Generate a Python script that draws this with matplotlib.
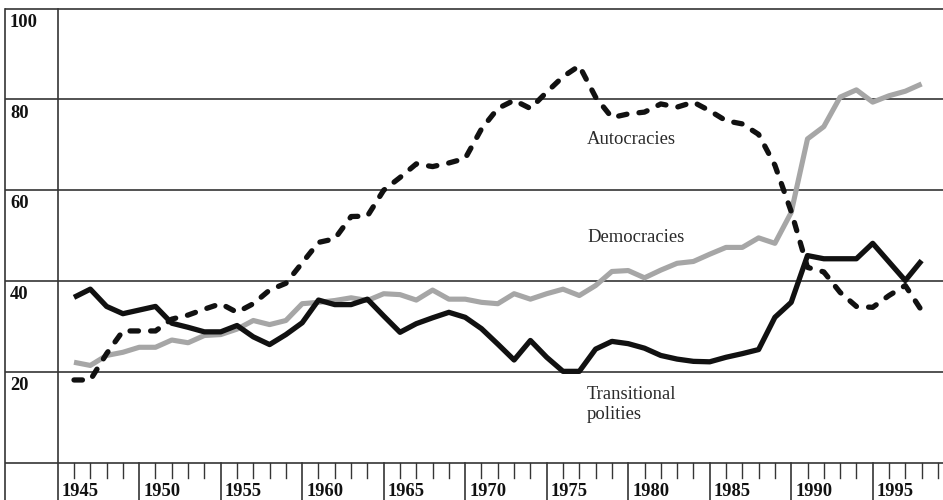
import matplotlib
matplotlib.use("Agg")
import matplotlib.pyplot as plt
import numpy as np

plt.rcParams['font.family'] = ['Liberation Serif', 'DejaVu Serif']

years = list(range(1945, 1998))

transitional = [36.4, 38.2, 34.4, 32.8, 33.6, 34.4, 30.7, 29.8, 28.8, 28.8,
                30.2, 27.7, 26.0, 28.2, 30.8, 35.8, 34.8, 34.8, 36.0, 32.3,
                28.7, 30.6, 31.9, 33.1, 32.0, 29.5, 26.1, 22.6, 26.9, 23.2,
                20.1, 20.1, 25.0, 26.7, 26.2, 25.2, 23.6, 22.8, 22.3, 22.2,
                23.2, 24.0, 24.9, 32.0, 35.3, 45.6, 44.9, 44.9, 44.9, 48.3,
                44.2, 40.1, 44.5]

democracies = [22.1, 21.4, 23.6, 24.3, 25.4, 25.4, 27.0, 26.4, 28.0, 28.2,
               29.4, 31.3, 30.4, 31.3, 35.0, 35.3, 35.7, 36.3, 35.7, 37.2,
               37.0, 35.8, 38.0, 36.0, 36.0, 35.3, 35.0, 37.2, 36.0, 37.2,
               38.2, 36.8, 39.0, 42.1, 42.3, 40.7, 42.4, 43.9, 44.3, 45.9,
               47.4, 47.4, 49.5, 48.3, 55.1, 71.3, 74.0, 80.5, 82.1, 79.4,
               80.8, 81.8, 83.4]

autocracies = [18.2, 18.2, 24.0, 29.0, 29.0, 29.0, 31.6, 32.5, 33.8, 35.0,
               33.1, 35.0, 38.0, 39.5, 44.0, 48.5, 49.3, 54.2, 54.3, 60.0,
               62.8, 65.8, 65.2, 66.0, 67.0, 73.5, 78.0, 79.8, 78.0, 81.6,
               85.0, 87.4, 80.5, 76.0, 76.8, 77.2, 79.0, 78.3, 79.4, 77.5,
               75.3, 74.6, 72.3, 65.5, 55.3, 43.0, 42.0, 37.5, 34.4, 34.2,
               36.8, 39.0, 33.5]

y_ticks = [20, 40, 60, 80, 100]
y_labels = ["20", "40", "60", "80", "100"]
x_label_years = [1945, 1950, 1955, 1960, 1965, 1970, 1975, 1980, 1985, 1990, 1995]

# pixel geometry helpers
PX_PER_YR = 16.3
PX_PER_UNIT = 4.54
def px2yr(px):
    return 1945 + (px - 74) / PX_PER_YR
def py2val(py):
    return (462.6 - py) / PX_PER_UNIT

fig = plt.figure(figsize=(9.43, 5.0), dpi=100)
ax = fig.add_axes([0, 0, 1, 1])
ax.set_xlim(px2yr(0), px2yr(943))
ax.set_ylim(py2val(500), py2val(0))
ax.axis('off')

grid_c = '#353535'
xl = px2yr(5)
xr = px2yr(943)
ybot = py2val(500)
# horizontal lines
for v in [0] + y_ticks:
    ax.plot([xl, xr], [v, v], color=grid_c, lw=1.2, solid_capstyle='butt', zorder=1)
# vertical frame lines
ax.plot([xl, xl], [ybot, 100], color=grid_c, lw=1.2, zorder=1)
ax.plot([1944, 1944], [ybot, 100], color=grid_c, lw=1.2, zorder=1)

# ticks
short_end = py2val(478)
for yr in range(1945, 1999):
    if yr % 5 == 4:
        ax.plot([yr, yr], [0, ybot], color=grid_c, lw=1.2, zorder=1)
    else:
        ax.plot([yr, yr], [0, short_end], color=grid_c, lw=1.0, zorder=1)

# year labels
for yr in x_label_years:
    ax.text(yr - 1 + 4 / PX_PER_YR, py2val(496.5), str(yr), fontsize=13.3,
            fontweight='bold', ha='left', va='baseline', color='#111111')

# y labels
for v, lab in zip(y_ticks, y_labels):
    ax.text(px2yr(10), v - 18.3 / PX_PER_UNIT, lab, fontsize=13.3,
            fontweight='bold', ha='left', va='baseline', color='#111111')

# series
ax.plot(years, democracies, color='#a6a6a6', lw=3.7, solid_joinstyle='round',
        solid_capstyle='butt', zorder=3)
ax.plot(years, transitional, color='#111111', lw=3.8, solid_joinstyle='round',
        solid_capstyle='butt', zorder=4)
ax.plot(years, autocracies, color='#111111', lw=3.8, dashes=(1.6, 2.3),
        dash_capstyle='round', dash_joinstyle='round', zorder=5)

# annotations
tx = px2yr(587)
tc = '#2a2a2a'
ax.text(tx, py2val(144), "Autocracies", fontsize=13.4, color=tc, ha='left', va='baseline')
ax.text(tx, py2val(241.7), "Democracies", fontsize=13.4, color=tc, ha='left', va='baseline')
ax.text(tx, py2val(399.3), "Transitional", fontsize=13.4, color=tc, ha='left', va='baseline')
ax.text(tx, py2val(419), "polities", fontsize=13.4, color=tc, ha='left', va='baseline')

fig.savefig("out.png", dpi=100)
